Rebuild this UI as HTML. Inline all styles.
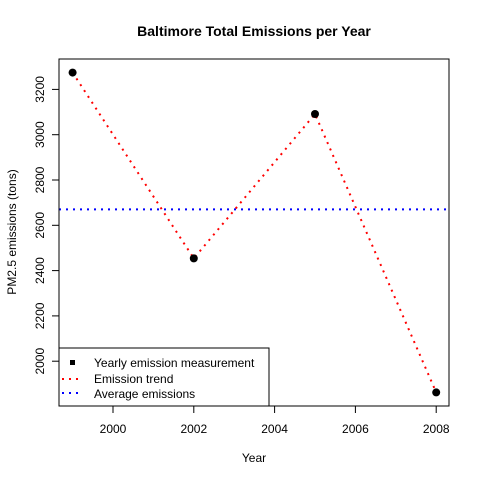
<!DOCTYPE html>
<html><head><meta charset="utf-8"><style>
body{margin:0;background:#fff}
svg text{font-family:"Liberation Sans",Arial,sans-serif;font-size:12px;fill:#000}
</style></head><body>
<svg width="480" height="480" viewBox="0 0 480 480">
<text x="254" y="36" text-anchor="middle" style="font-weight:bold;font-size:14px">Baltimore Total Emissions per Year</text>
<text x="254" y="462" text-anchor="middle">Year</text>
<text transform="translate(16,232) rotate(-90)" text-anchor="middle">PM2.5 emissions (tons)</text>
<g id="axes"></g>
<g id="marks"></g>
<rect x="59" y="59" width="390" height="347" fill="none" stroke="#000" stroke-width="1"/>
<g>
<rect x="59" y="348" width="210" height="58" fill="#fff" stroke="#000"/>
<rect x="70" y="360" width="5" height="5" fill="#000"/>
<text x="94" y="367">Yearly emission measurement</text>
<line x1="62" y1="379" x2="83" y2="379" stroke="#f00" stroke-width="2" stroke-dasharray="2,5"/>
<text x="94" y="383">Emission trend</text>
<line x1="62" y1="393" x2="83" y2="393" stroke="#00f" stroke-width="2" stroke-dasharray="2,5"/>
<text x="94" y="398">Average emissions</text>
</g>
</svg>
<script>
const years=[1999,2002,2005,2008];
const emissions=[3274.18,2453.92,3091.35,1862.28];
const xTicks=[2000,2002,2004,2006,2008];
const yTicks=[2000,2200,2400,2600,2800,3000,3200];
const NS="http://www.w3.org/2000/svg";
const xs=v=>113+(v-2000)*40.4;
const ys=v=>134.7-(v-3000)*0.2265;
function mk(t,a,p){const e=document.createElementNS(NS,t);for(const k in a)e.setAttribute(k,a[k]);p.appendChild(e);return e;}
const ax=document.getElementById('axes'),mg=document.getElementById('marks');
xTicks.forEach(t=>{const x=xs(t);
const l=mk('line',{x1:x,y1:406,x2:x,y2:413,stroke:'#000'},ax);


const tx=mk('text',{x:x,y:433,'text-anchor':'middle'},ax);tx.textContent=t;

});
yTicks.forEach(t=>{const y=ys(t);
const l=mk('line',{x1:52,y1:y,x2:59,y2:y,stroke:'#000'},ax);


const tx=mk('text',{transform:`translate(44,${y}) rotate(-90)`,'text-anchor':'middle'},ax);tx.textContent=t;

});
const avg=emissions.reduce((a,b)=>a+b,0)/emissions.length;
const al=mk('line',{x1:59,x2:449,y1:ys(avg),y2:ys(avg),stroke:'#00f','stroke-width':2,'stroke-dasharray':'2,5'},mg);


const pl=mk('polyline',{points:years.map((y,i)=>xs(y)+','+ys(emissions[i])).join(' '),fill:'none',stroke:'#f00','stroke-width':2,'stroke-dasharray':'2,5'},mg);


years.forEach((y,i)=>{const c=mk('circle',{cx:xs(y),cy:ys(emissions[i]),r:4,fill:'#000'},mg);

});
</script>
</body></html>
